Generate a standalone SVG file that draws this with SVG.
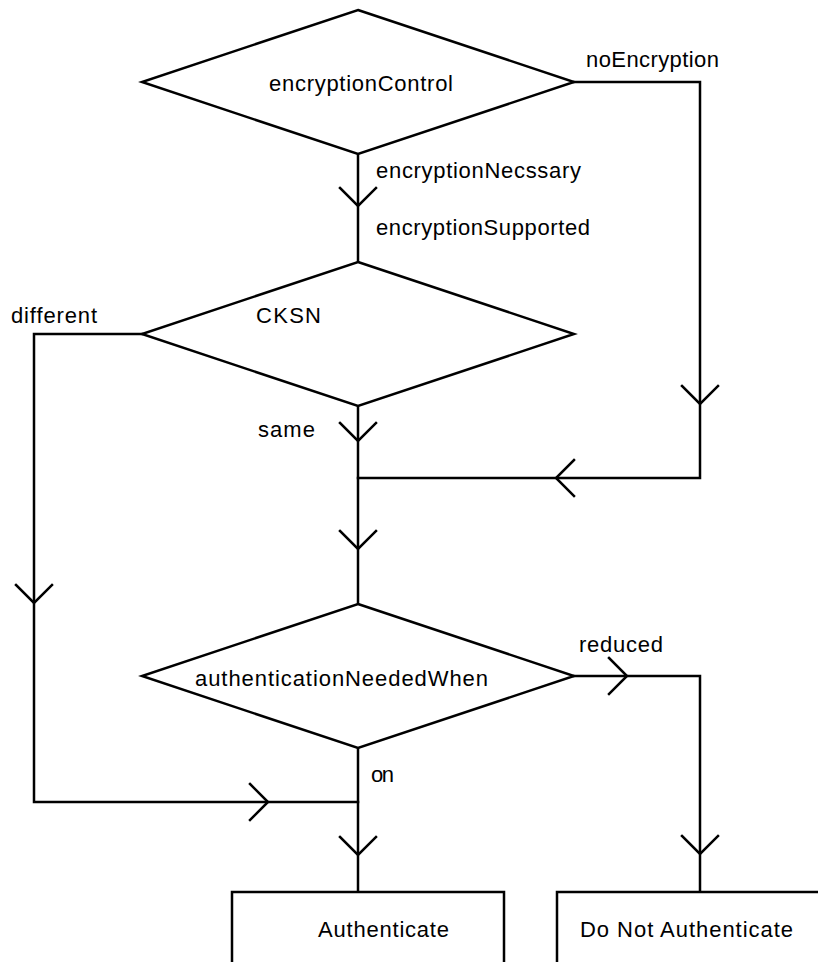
<svg xmlns="http://www.w3.org/2000/svg" width="818" height="962" viewBox="0 0 818 962">
<style>
.s{fill:none;stroke:#000;stroke-width:2.5;stroke-linejoin:miter;stroke-linecap:square}
.n{fill:#fff;stroke:#000;stroke-width:2.5}
.t{font-family:"Liberation Sans",Arial,sans-serif;font-size:22px;fill:#000}
</style>
<rect width="818" height="962" fill="#fff"/>
<g id="connectors">
<polyline class="s" points="574,82 700,82 700,478 358,478"/>
<polyline class="s" points="358,154 358,262"/>
<polyline class="s" points="358,406 358,604"/>
<polyline class="s" points="142,334 34,334 34,802 358,802"/>
<polyline class="s" points="574,676 700,676 700,892"/>
<polyline class="s" points="358,748 358,892"/>
<g id="arrows">
<polyline class="s" points="340,188 358,206 376,188"/>
<polyline class="s" points="682,386 700,404 718,386"/>
<polyline class="s" points="574,460 556,478 574,496"/>
<polyline class="s" points="340,423 358,441 376,423"/>
<polyline class="s" points="340,531 358,549 376,531"/>
<polyline class="s" points="16,585 34,603 52,585"/>
<polyline class="s" points="250,784 268,802 250,820"/>
<polyline class="s" points="609,658 627,676 609,694"/>
<polyline class="s" points="682,836 700,854 718,836"/>
<polyline class="s" points="340,837 358,855 376,837"/>
</g>
<text class="t" x="586" y="67" textLength="133">noEncryption</text>
<text class="t" x="376" y="178" textLength="205">encryptionNecssary</text>
<text class="t" x="376" y="235" textLength="214">encryptionSupported</text>
<text class="t" x="11" y="323" textLength="86">different</text>
<text class="t" x="258" y="437" textLength="57">same</text>
<text class="t" x="579" y="652" textLength="84">reduced</text>
<text class="t" x="371" y="782" textLength="23">on</text>
</g>
<g id="encryptionControl">
<polygon class="n" points="358,10 574,82 358,154 142,82"/>
<text class="t" x="269" y="91" textLength="184">encryptionControl</text>
</g>
<g id="CKSN">
<polygon class="n" points="358,262 574,334 358,406 142,334"/>
<text class="t" x="256" y="323" textLength="65">CKSN</text>
</g>
<g id="authenticationNeededWhen">
<polygon class="n" points="358,604 574,676 358,748 142,676"/>
<text class="t" x="195" y="686" textLength="293">authenticationNeededWhen</text>
</g>
<g id="Authenticate">
<rect class="n" x="232" y="892" width="272" height="90"/>
<text class="t" x="318" y="937" textLength="131">Authenticate</text>
</g>
<g id="DoNotAuthenticate">
<rect class="n" x="557" y="892" width="280" height="90"/>
<text class="t" x="580" y="937" textLength="213">Do Not Authenticate</text>
</g>
</svg>
